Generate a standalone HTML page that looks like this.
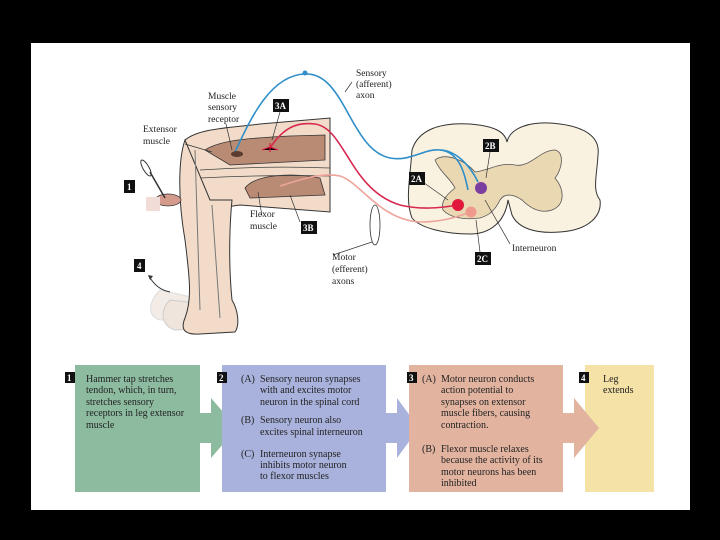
<!DOCTYPE html>
<html><head><meta charset="utf-8"><style>
html,body{margin:0;padding:0;background:#000;}
svg{display:block}
text{font-family:"Liberation Serif",serif;fill:#222}
.b{fill:#111}
.bt{fill:#fff;font-weight:bold;font-size:9px;font-family:"Liberation Serif",serif}
</style></head><body>
<svg width="720" height="540" viewBox="0 0 720 540" xmlns="http://www.w3.org/2000/svg">
<rect x="0" y="0" width="720" height="540" fill="#000"/>
<rect x="31" y="43" width="659" height="467" fill="#fff"/>

<!-- spinal cord -->
<path d="M412,150 C418,130 440,122 470,124 C495,126 505,132 507,142 C510,128 530,120 560,124 C590,128 600,140 598,155 C597,175 592,190 600,200 C602,215 590,230 560,232 C535,234 518,228 512,215 L508,200 C505,222 490,234 470,234 C445,234 420,228 412,218 C405,200 410,180 412,150 Z" fill="#faf2e1" stroke="#333" stroke-width="1"/>
<path d="M435,160 C445,152 465,160 475,172 C490,170 500,162 515,165 C530,168 540,150 555,150 C565,152 562,170 555,178 C565,190 565,205 552,210 C540,214 530,208 522,200 C515,195 505,192 500,200 C495,210 490,215 480,218 C465,220 450,218 443,210 C440,200 450,192 455,188 C450,178 440,172 435,160 Z" fill="#ead8b3" stroke="#555" stroke-width="0.8"/>

<!-- ghost legs -->
<path d="M160,290 C150,300 145,315 160,320 L200,318 L205,300 Z" fill="#f3ece6" stroke="#ddd"/>
<path d="M170,300 C160,310 160,325 175,330 L215,328 L215,305 Z" fill="#efe5dc" stroke="#ccc"/>
<!-- thigh -->
<path d="M185,140 C200,128 230,128 260,124 L330,118 L330,212 L240,205 L205,210 C195,200 185,180 185,140 Z" fill="#f2dcc9" stroke="#333"/>
<path d="M205,150 C220,140 250,138 290,136 L325,135 L325,160 L230,165 Z" fill="#b98b75" stroke="#333" stroke-width="0.8"/>
<path d="M245,188 C255,175 290,172 320,178 L325,195 L250,198 Z" fill="#b98b75" stroke="#333" stroke-width="0.8"/>
<path d="M200,170 C230,168 280,166 330,168 M200,178 C240,176 290,175 330,176" stroke="#444" fill="none" stroke-width="0.8"/>
<!-- lower leg -->
<path d="M185,140 C178,160 178,200 185,240 C190,280 192,300 185,318 C180,330 185,335 200,334 L235,332 C240,325 238,310 232,300 C228,260 230,220 232,200 L210,200 Z" fill="#f2dcc9" stroke="#333"/>
<path d="M195,150 L200,310 M212,205 L220,318" stroke="#777" fill="none"/>
<!-- hammer -->
<ellipse cx="168" cy="200" rx="13" ry="6" fill="#d49a8c" stroke="#333" stroke-width="0.7"/>
<rect x="146" y="197" width="14" height="14" fill="#f1dcd8"/>
<path d="M165,198 L150,172" stroke="#333" stroke-width="1.5"/>
<ellipse cx="146" cy="168" rx="3" ry="9" fill="none" stroke="#333" transform="rotate(-30 146 168)"/>
<path d="M170,292 C160,290 155,285 150,278" stroke="#333" fill="none"/>
<path d="M148,275 l5,1 l-3,4z" fill="#333"/>

<!-- paths -->
<path d="M235,152 C250,120 270,75 305,74 C345,72 350,150 390,158 C410,162 425,148 440,150 C460,152 465,175 468,190" stroke="#2f8fc9" stroke-width="1.6" fill="none"/>
<path d="M440,150 C455,150 470,165 478,182" stroke="#2f8fc9" stroke-width="1.6" fill="none"/>
<circle cx="305" cy="73" r="2.5" fill="#2f8fc9"/>
<path d="M270,148 C285,125 300,122 315,124 C345,128 350,190 400,205 C420,210 440,208 458,205" stroke="#d6284f" stroke-width="1.6" fill="none"/>
<path d="M280,186 C300,180 320,172 340,176 C360,182 380,220 420,222 C440,222 455,218 470,212" stroke="#eea39b" stroke-width="1.6" fill="none"/>
<ellipse cx="375" cy="225" rx="5" ry="20" fill="none" stroke="#333" stroke-width="0.8"/>
<circle cx="481" cy="188" r="6" fill="#7b3fa0"/>
<circle cx="458" cy="205" r="6" fill="#e0163c"/>
<circle cx="471" cy="212" r="5.5" fill="#f09a8e"/>
<path d="M262,150 l8,-3 l8,3 M270,143 l0,9" stroke="#e0163c" stroke-width="1.2"/>
<ellipse cx="237" cy="154" rx="6" ry="3" fill="#5a3b30"/>

<!-- leader lines -->
<g stroke="#333" stroke-width="0.7" fill="none">
<path d="M185,144 L212,152 M226,124 L232,150 M280,112 L272,140 M352,82 L345,92 M262,216 L258,192 M300,222 L290,195 M333,255 L372,242 M420,180 L448,200 M490,152 L486,178 M480,252 L476,220 M510,244 L485,200"/>
</g>

<!-- labels -->
<g font-size="9.5">
<text x="356" y="76">Sensory</text><text x="356" y="87">(afferent)</text><text x="356" y="98">axon</text>
<text x="208" y="99">Muscle</text><text x="208" y="110">sensory</text><text x="208" y="122">receptor</text>
<text x="143" y="132">Extensor</text><text x="143" y="144">muscle</text>
<text x="250" y="217">Flexor</text><text x="250" y="229">muscle</text>
<text x="332" y="260">Motor</text><text x="332" y="272">(efferent)</text><text x="332" y="284">axons</text>
<text x="512" y="251">Interneuron</text>
</g>
<g>
<rect x="273" y="99" width="16" height="13" class="b"/><text x="275" y="109" class="bt">3A</text>
<rect x="483" y="139" width="16" height="13" class="b"/><text x="485" y="149" class="bt">2B</text>
<rect x="409" y="172" width="16" height="13" class="b"/><text x="411" y="182" class="bt">2A</text>
<rect x="301" y="221" width="16" height="13" class="b"/><text x="303" y="231" class="bt">3B</text>
<rect x="475" y="252" width="16" height="13" class="b"/><text x="477" y="262" class="bt">2C</text>
<rect x="124" y="180" width="11" height="13" class="b"/><text x="127" y="190" class="bt">1</text>
<rect x="134" y="259" width="11" height="13" class="b"/><text x="137" y="269" class="bt">4</text>
</g>

<!-- bottom boxes -->
<rect x="75" y="365" width="125" height="127" fill="#8dbba0"/>
<path d="M200,413 L211,413 L211,398 L237,428 L211,458 L211,443 L200,443Z" fill="#8dbba0"/>
<rect x="222" y="365" width="164" height="127" fill="#a9b2dc"/>
<path d="M386,413 L397,413 L397,398 L419,428 L397,458 L397,443 L386,443Z" fill="#a9b2dc"/>
<rect x="409" y="365" width="154" height="127" fill="#e2b4a0"/>
<rect x="585" y="365" width="69" height="127" fill="#f5e2a6"/>
<path d="M563,413 L574,413 L574,398 L599,428 L574,458 L574,443 L563,443Z" fill="#e2b4a0"/>

<rect x="65" y="372" width="10" height="11" class="b"/><text x="67" y="381" class="bt">1</text>
<rect x="217" y="372" width="10" height="11" class="b"/><text x="219" y="381" class="bt">2</text>
<rect x="407" y="372" width="10" height="11" class="b"/><text x="409" y="381" class="bt">3</text>
<rect x="579" y="372" width="10" height="11" class="b"/><text x="581" y="381" class="bt">4</text>

<g font-size="10">
<text x="86" y="382">Hammer tap stretches</text>
<text x="86" y="393">tendon, which, in turn,</text>
<text x="86" y="405">stretches sensory</text>
<text x="86" y="416">receptors in leg extensor</text>
<text x="86" y="428">muscle</text>

<text x="241" y="382">(A)</text><text x="260" y="382">Sensory neuron synapses</text>
<text x="260" y="393">with and excites motor</text>
<text x="260" y="405">neuron in the spinal cord</text>
<text x="241" y="423">(B)</text><text x="260" y="423">Sensory neuron also</text>
<text x="260" y="435">excites spinal interneuron</text>
<text x="241" y="457">(C)</text><text x="260" y="457">Interneuron synapse</text>
<text x="260" y="468">inhibits motor neuron</text>
<text x="260" y="479">to flexor muscles</text>

<text x="422" y="382">(A)</text><text x="441" y="382">Motor neuron conducts</text>
<text x="441" y="393">action potential to</text>
<text x="441" y="405">synapses on extensor</text>
<text x="441" y="416">muscle fibers, causing</text>
<text x="441" y="428">contraction.</text>
<text x="422" y="452">(B)</text><text x="441" y="452">Flexor muscle relaxes</text>
<text x="441" y="463">because the activity of its</text>
<text x="441" y="475">motor neurons has been</text>
<text x="441" y="486">inhibited</text>

<text x="603" y="382">Leg</text>
<text x="603" y="393">extends</text>
</g>
</svg>
</body></html>
